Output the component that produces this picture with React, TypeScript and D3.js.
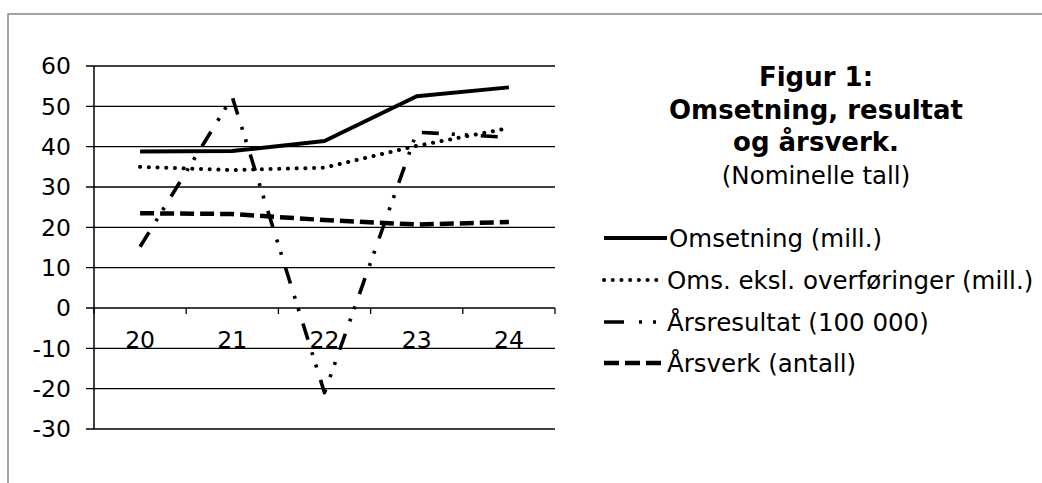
import React from "react";
import * as d3 from "d3";

const categories = ["20", "21", "22", "23", "24"];
const omsetning = [38.8, 38.9, 41.4, 52.5, 54.7];
const omsEksl = [35.0, 34.2, 34.8, 40.2, 44.6];
const arsresultat = [15.2, 52.3, -21.0, 43.6, 42.3];
const arsverk = [23.5, 23.3, 21.8, 20.7, 21.3];
const yTicks = [60, 50, 40, 30, 20, 10, 0, -10, -20, -30];
const titleLines = ["Figur 1:", "Omsetning, resultat", "og årsverk."];
const subtitle = "(Nominelle tall)";
const legendLabels = [
  "Omsetning (mill.)",
  "Oms. eksl. overføringer (mill.)",
  "Årsresultat (100 000)",
  "Årsverk (antall)",
];

const W = 1042;
const H = 483;
const FONT = "'DejaVu Sans', Verdana, sans-serif";

const styles = [
  { dash: undefined as string | undefined, width: 4, cap: "butt" },
  { dash: "0.1 8.6", width: 4, cap: "round" },
  { dash: "17 13 3 10 3 13", width: 3.6, cap: "butt" },
  { dash: "14 6", width: 4.5, cap: "butt" },
];
const legendDash = [undefined, "0.1 8.6", "20 15 3 11 3 20", "15 6"];
const legendEnd = [667, 663, 667, 661];

export default function App() {
  const left = 94;
  const right = 555;
  const top = 66;
  const bottom = 429;

  const x = d3.scaleBand<string>().domain(categories).range([left, right]);
  const y = d3.scaleLinear().domain([-30, 60]).range([bottom, top]);
  const cx = (c: string) => (x(c) as number) + x.bandwidth() / 2;

  const series = [omsetning, omsEksl, arsresultat, arsverk];
  const line = d3
    .line<number>()
    .x((_, i) => cx(categories[i]))
    .y((d) => y(d));

  const legendY = [238, 280, 322, 363];
  const boundaries = [left, ...categories.map((c) => (x(c) as number) + x.bandwidth())];

  return (
    <svg width={W} height={H} style={{ position: "absolute", left: 0, top: 0, background: "#fff" }}>
      <rect x={0} y={0} width={W} height={H} fill="#fff" />
      <path d={`M8,${H} L8,14 L${W},14`} fill="none" stroke="#888" strokeWidth={1.5} />

      {yTicks.map((t) => (
        <g key={t}>
          <line x1={86} x2={right} y1={y(t)} y2={y(t)} stroke="#000" strokeWidth={1.3} />
          <text
            x={71}
            y={y(t)}
            dy="0.36em"
            textAnchor="end"
            fontFamily={FONT}
            fontSize={23.5}
            fill="#000"
          >
            {t}
          </text>
        </g>
      ))}
      <line x1={left} x2={left} y1={top} y2={bottom} stroke="#000" strokeWidth={1.5} />
      {boundaries.map((b, i) => (
        <line key={i} x1={b} x2={b} y1={y(0)} y2={y(0) + 6} stroke="#000" strokeWidth={1.3} />
      ))}
      {categories.map((c) => (
        <text
          key={c}
          x={cx(c)}
          y={348}
          textAnchor="middle"
          fontFamily={FONT}
          fontSize={23.5}
          fill="#000"
        >
          {c}
        </text>
      ))}

      {series.map((s, i) => (
        <path
          key={i}
          d={line(s) as string}
          fill="none"
          stroke="#000"
          strokeWidth={styles[i].width}
          strokeDasharray={styles[i].dash}
          strokeLinecap={styles[i].cap as any}
          strokeLinejoin="round"
        />
      ))}

      {titleLines.map((t, i) => (
        <text
          key={t}
          x={816}
          y={86 + i * 32.5}
          textAnchor="middle"
          fontFamily={FONT}
          fontWeight="bold"
          fontSize={26}
          fill="#000"
        >
          {t}
        </text>
      ))}
      <text x={816} y={184} textAnchor="middle" fontFamily={FONT} fontSize={24.5} fill="#000">
        {subtitle}
      </text>

      {legendLabels.map((l, i) => (
        <g key={l}>
          <line
            x1={604}
            x2={legendEnd[i]}
            y1={legendY[i]}
            y2={legendY[i]}
            stroke="#000"
            strokeWidth={styles[i].width}
            strokeDasharray={legendDash[i]}
            strokeLinecap={styles[i].cap as any}
          />
          <text
            x={i === 0 ? 669 : 667}
            y={legendY[i]}
            dy="0.36em"
            fontFamily={FONT}
            fontSize={24.5}
            fill="#000"
          >
            {l}
          </text>
        </g>
      ))}
    </svg>
  );
}
